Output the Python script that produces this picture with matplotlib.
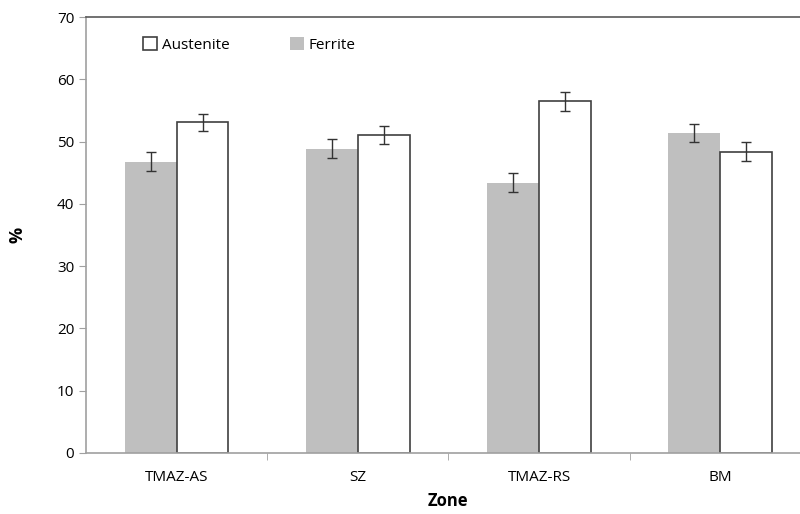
import numpy as np
import matplotlib
matplotlib.use("Agg")
import matplotlib.pyplot as plt

zones = ["TMAZ-AS", "SZ", "TMAZ-RS", "BM"]
ferrite = [46.8, 48.9, 43.4, 51.4]
ferrite_err = [1.5, 1.5, 1.5, 1.5]
austenite = [53.1, 51.1, 56.5, 48.4]
austenite_err = [1.4, 1.4, 1.5, 1.5]

plt.rcParams["font.family"] = ["Open Sans", "DejaVu Sans"]

fig = plt.figure(figsize=(8, 5.14), dpi=100)
ax = fig.add_axes([0.1075, 0.1187, 0.906, 0.848])

x = np.arange(len(zones))
w = 0.286
err_kw = {"ecolor": "#333333", "elinewidth": 1.0, "capsize": 3.5, "capthick": 1.0}
ax.bar(x - w / 2, ferrite, w, yerr=ferrite_err, color="#bfbfbf", edgecolor="none",
       label="Ferrite", error_kw=err_kw, zorder=2)
ax.bar(x + w / 2, austenite, w, yerr=austenite_err, color="white", edgecolor="#404040",
       linewidth=1.2, label="Austenite", error_kw=err_kw, zorder=2)

ax.set_xlim(-0.5, len(zones) - 0.5)
ax.set_ylim(0, 70)
ax.set_yticks(range(0, 71, 10))
ax.set_xticks(x)
ax.set_xticklabels(zones, fontsize=11)
ax.set_xticks(np.arange(0.5, len(zones) - 0.5, 1), minor=True)
ax.tick_params(axis="x", which="major", length=0, pad=12)
ax.tick_params(axis="x", which="minor", length=5, color="#a0a0a0")
ax.tick_params(axis="y", length=5, color="#a0a0a0", labelsize=11)

for side in ["left", "bottom"]:
    ax.spines[side].set_color("#a0a0a0")
    ax.spines[side].set_linewidth(1.2)
ax.spines["top"].set_color("#595959")
ax.spines["top"].set_linewidth(1.2)
ax.spines["right"].set_visible(False)

ax.set_ylabel("%", fontsize=13, fontweight="bold", labelpad=22)
ax.set_xlabel("Zone", fontsize=12, fontweight="bold", labelpad=5)

handles, labels = ax.get_legend_handles_labels()
ax.legend(handles[::-1], labels[::-1], ncol=2, frameon=False, fontsize=11,
          loc="upper left", bbox_to_anchor=(0.06, 0.985), columnspacing=4.0,
          handlelength=0.9, handleheight=0.9, handletextpad=0.3)

fig.savefig("out.png", dpi=100)
